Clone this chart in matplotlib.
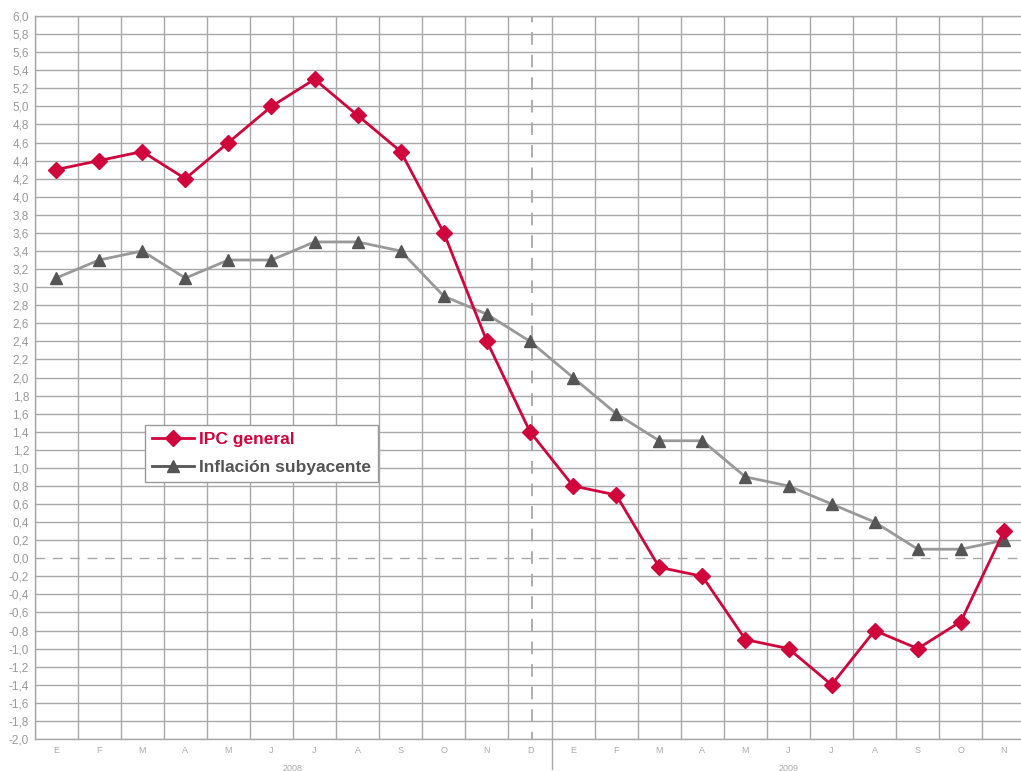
import matplotlib
matplotlib.use('Agg')
import matplotlib.pyplot as plt
import numpy as np
from matplotlib.lines import Line2D

plt.rcParams['font.family'] = ['Liberation Sans', 'DejaVu Sans']

months = ['E', 'F', 'M', 'A', 'M', 'J', 'J', 'A', 'S', 'O', 'N', 'D',
          'E', 'F', 'M', 'A', 'M', 'J', 'J', 'A', 'S', 'O', 'N']
years = ['2008', '2009']
ipc_general = [4.3, 4.4, 4.5, 4.2, 4.6, 5.0, 5.3, 4.9, 4.5, 3.6, 2.4, 1.4,
               0.8, 0.7, -0.1, -0.2, -0.9, -1.0, -1.4, -0.8, -1.0, -0.7, 0.3]
subyacente = [3.1, 3.3, 3.4, 3.1, 3.3, 3.3, 3.5, 3.5, 3.4, 2.9, 2.7, 2.4,
              2.0, 1.6, 1.3, 1.3, 0.9, 0.8, 0.6, 0.4, 0.1, 0.1, 0.2]

red = '#d0053c'
grid_c = '#a8a8a8'

fig = plt.figure(figsize=(10.21, 7.71), dpi=100)
# plot area runs a bit past the right edge of the image (cropped chart)
ax = fig.add_axes([34.5/1021, 32/771, 991/1021, 723/771])

x = np.arange(len(months))

# grid: vertical lines between months, horizontal every 0.2 (no solid line at 0)
for xv in np.arange(-0.5, len(months) + 0.5, 1):
    ax.axvline(xv, color=grid_c, lw=1, zorder=1)
for yv in np.arange(-2.0, 6.01, 0.2):
    if abs(yv) > 1e-9:
        ax.axhline(yv, color=grid_c, lw=1, zorder=1)
ax.axhline(0, color=grid_c, lw=1, ls=(0, (7, 5.5)), zorder=2)
ax.axvline(11.05, color=grid_c, lw=1.3, ls=(3, (7, 5.5)), zorder=2)

ax.plot(x, subyacente, color='#999999', lw=2, zorder=3)
ax.plot(x, subyacente, ls='none', marker='^', ms=8, color='#555555', zorder=4)
ax.plot(x, ipc_general, color=red, lw=2, marker='D', ms=8, mec=red, mfc=red, zorder=5)

# legend
handles = [Line2D([], [], color=red, lw=2, marker='D', ms=8),
           Line2D([], [], color='#555555', lw=2, marker='^', ms=8)]
leg = ax.legend(handles, ['IPC general', 'Inflación subyacente'],
                loc='upper left', bbox_to_anchor=(110.5/991, 314/723),
                fancybox=False, framealpha=1, edgecolor='#999999',
                prop={'size': 12.5, 'weight': 'bold'}, handlelength=2.4,
                handletextpad=0.3, borderpad=0.4, borderaxespad=0,
                labelspacing=0.75)
leg.get_frame().set_linewidth(1)
for t, c in zip(leg.get_texts(), [red, '#555555']):
    t.set_color(c)

yt = np.arange(-2.0, 6.01, 0.2)
ax.set_xlim(-0.5, len(months) - 0.5)
ax.set_ylim(-2.0, 6.0)
ax.set_yticks(yt)
ax.set_yticklabels([('%.1f' % v).replace('.', ',').replace('-0,0', '0,0') for v in yt],
                   fontsize=8.5, color='#999999')
ax.set_xticks(x)
ax.set_xticklabels(months, fontsize=6.5, color='#aaaaaa')
ax.tick_params(length=0, pad=5)
ax.tick_params(axis='y', pad=4)
for s in ax.spines.values():
    s.set_color(grid_c)
    s.set_linewidth(1)

# year labels and separator
ax.text(5.5, -0.034, years[0], transform=ax.get_xaxis_transform(), ha='center', va='top', fontsize=6.5, color='#aaaaaa')
ax.text(17, -0.034, years[1], transform=ax.get_xaxis_transform(), ha='center', va='top', fontsize=6.5, color='#aaaaaa')
ax.plot([11.5, 11.5], [0, -0.042], transform=ax.get_xaxis_transform(), color=grid_c, lw=1, clip_on=False)

fig.savefig('out.png', dpi=100)
